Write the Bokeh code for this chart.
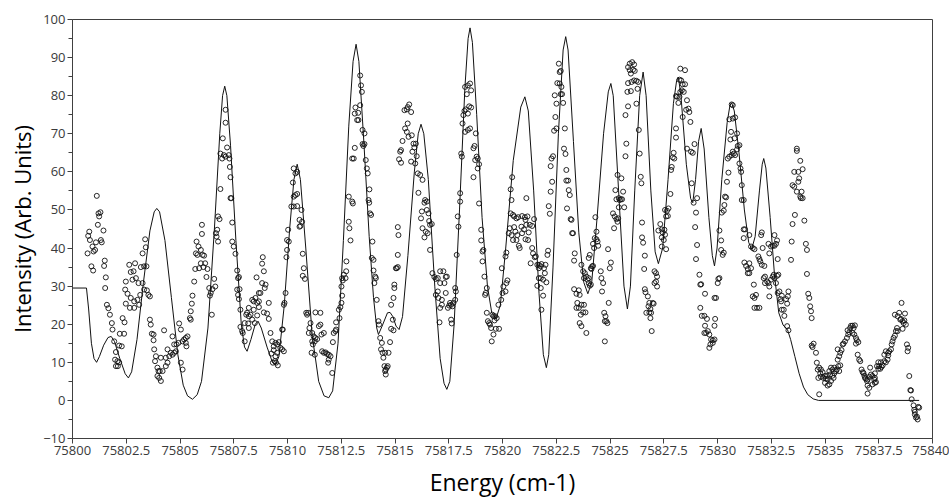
from bokeh.plotting import figure
from bokeh.models import FixedTicker, Range1d, ColumnDataSource
from bokeh.embed import file_html
from bokeh.resources import INLINE

# ---- tick definitions ----
x_ticks = [75800, 75802.5, 75805, 75807.5, 75810, 75812.5, 75815, 75817.5, 75820,
           75822.5, 75825, 75827.5, 75830, 75832.5, 75835, 75837.5, 75840]
x_tick_labels = ["75800", "75802.5", "75805", "75807.5", "75810", "75812.5", "75815",
                 "75817.5", "75820", "75822.5", "75825", "75827.5", "75830", "75832.5",
                 "75835", "75837.5", "75840"]
y_ticks = [-10, 0, 10, 20, 30, 40, 50, 60, 70, 80, 90, 100]
y_minor_ticks = [-5, 5, 15, 25, 35, 45, 55, 65, 75, 85, 95]

# ---- simulated spectrum (line) ----
sim_x = [75800.00, 75800.65, 75800.75, 75800.88, 75801.00, 75801.12, 75801.25, 75801.45,
         75801.65, 75801.80, 75801.95, 75802.20, 75802.45, 75802.60, 75802.75, 75803.00,
         75803.30, 75803.60, 75803.80, 75803.92, 75804.05, 75804.30, 75804.60, 75804.90,
         75805.15, 75805.35, 75805.58, 75805.80, 75806.00, 75806.30, 75806.60, 75806.85,
         75806.98, 75807.08, 75807.18, 75807.35, 75807.60, 75807.85, 75808.00, 75808.12,
         75808.30, 75808.50, 75808.63, 75808.78, 75809.05, 75809.30, 75809.44, 75809.60,
         75809.85, 75810.10, 75810.30, 75810.45, 75810.60, 75810.85, 75811.15, 75811.45,
         75811.70, 75811.92, 75812.10, 75812.35, 75812.60, 75812.85, 75813.05, 75813.19,
         75813.32, 75813.55, 75813.80, 75814.00, 75814.15, 75814.23, 75814.40, 75814.65,
         75814.77, 75814.90, 75815.05, 75815.19, 75815.35, 75815.60, 75815.90, 75816.08,
         75816.21, 75816.34, 75816.55, 75816.85, 75817.10, 75817.28, 75817.41, 75817.55,
         75817.75, 75818.00, 75818.25, 75818.40, 75818.49, 75818.60, 75818.80, 75819.05,
         75819.30, 75819.50, 75819.70, 75819.90, 75820.15, 75820.50, 75820.85, 75821.04,
         75821.20, 75821.45, 75821.70, 75821.90, 75822.04, 75822.15, 75822.35, 75822.60,
         75822.82, 75822.94, 75823.05, 75823.30, 75823.55, 75823.78, 75823.97, 75824.15,
         75824.40, 75824.70, 75824.92, 75825.04, 75825.15, 75825.40, 75825.65, 75825.81,
         75825.95, 75826.15, 75826.38, 75826.54, 75826.68, 75826.90, 75827.10, 75827.25,
         75827.45, 75827.70, 75827.95, 75828.10, 75828.18, 75828.30, 75828.55, 75828.75,
         75828.85, 75828.98, 75829.12, 75829.24, 75829.38, 75829.60, 75829.76, 75829.86,
         75829.98, 75830.20, 75830.45, 75830.58, 75830.66, 75830.78, 75831.00, 75831.25,
         75831.45, 75831.59, 75831.75, 75831.95, 75832.08, 75832.15, 75832.25, 75832.45,
         75832.65, 75832.85, 75833.05, 75833.26, 75833.40, 75833.60, 75833.80, 75834.00,
         75834.20, 75834.45, 75834.70, 75839.38]
sim_y = [29.5, 29.5, 24.0, 15.0, 11.0, 10.0, 11.5, 14.5,
         16.5, 16.8, 15.5, 11.0, 7.0, 5.9, 7.5, 16.0,
         31.0, 44.5, 49.5, 50.4, 49.5, 42.0, 27.0, 12.0,
         4.0, 1.2, 0.3, 1.5, 5.0, 19.0, 45.0, 70.0,
         80.0, 82.5, 80.0, 67.0, 42.0, 20.0, 14.0, 12.9,
         16.0, 20.0, 20.8, 19.0, 14.0, 10.0, 9.4, 11.5,
         25.0, 45.0, 58.0, 62.0, 58.0, 40.0, 17.0, 5.0,
         1.2, 0.7, 2.5, 15.0, 42.0, 72.0, 89.0, 93.5,
         89.0, 68.0, 43.0, 27.0, 19.0, 17.3, 19.5, 23.0,
         23.1, 22.0, 19.5, 18.6, 22.0, 38.0, 60.0, 70.0,
         72.5, 70.0, 58.0, 30.0, 11.0, 4.5, 2.9, 5.0,
         20.0, 50.0, 82.0, 95.0, 97.8, 94.0, 75.0, 48.0,
         30.0, 23.0, 21.5, 25.0, 40.0, 63.0, 77.0, 79.7,
         76.0, 55.0, 28.0, 12.0, 8.6, 12.0, 35.0, 70.0,
         92.0, 95.5, 92.0, 68.0, 44.0, 31.0, 28.0, 31.0,
         48.0, 70.0, 81.0, 83.2, 80.0, 55.0, 30.0, 24.0,
         30.0, 55.0, 80.0, 86.2, 80.0, 55.0, 39.0, 35.9,
         40.0, 58.0, 78.0, 84.0, 84.9, 80.0, 62.0, 53.0,
         51.9, 58.0, 68.0, 71.4, 66.0, 48.0, 38.0, 35.3,
         40.0, 58.0, 73.0, 77.5, 78.1, 76.0, 65.0, 50.0,
         41.5, 39.7, 43.0, 55.0, 62.0, 63.5, 61.0, 48.0,
         33.0, 23.0, 19.8, 18.5, 16.0, 11.5, 7.0, 3.5,
         1.5, 0.4, 0.0, 0.0]

# ---- experimental points, grouped by region (energy, intensity) ----
exp_region_a = [
    (75801.13, 53.7), (75801.21, 49.1), (75801.30, 49.4), (75801.24, 48.3), (75801.18, 46.1),
    (75801.44, 44.6), (75801.32, 42.1), (75801.36, 41.5), (75801.09, 41.5), (75801.05, 39.5),
    (75800.98, 39.1), (75800.78, 44.3), (75800.73, 43.2), (75800.81, 42.1), (75800.93, 40.4),
    (75800.70, 38.6), (75800.88, 35.2), (75800.96, 34.1), (75801.50, 36.7), (75801.47, 35.3),
    (75801.55, 32.3), (75801.52, 29.5), (75801.60, 25.1), (75801.67, 24.2), (75801.74, 22.5),
    (75801.83, 20.3), (75801.86, 18.6), (75801.94, 15.5), (75802.02, 12.7), (75802.17, 14.4),
    (75802.29, 14.2), (75802.20, 17.5), (75802.40, 17.5), (75801.98, 10.7), (75802.09, 10.3),
    (75802.17, 10.0), (75802.02, 9.0), (75802.11, 9.0),
    (75802.64, 35.6), (75802.91, 36.0), (75802.84, 33.9), (75802.71, 33.7), (75802.95, 32.1),
    (75802.79, 31.7), (75802.48, 31.2), (75803.07, 30.8), (75803.26, 30.8), (75802.45, 29.1),
    (75802.56, 28.0), (75802.48, 25.4), (75802.71, 26.9), (75802.87, 26.0), (75802.67, 24.3),
    (75802.87, 24.3), (75803.02, 26.4), (75803.10, 25.1), (75803.15, 27.7), (75803.33, 29.1),
    (75803.46, 28.9), (75803.53, 27.7), (75803.60, 27.3), (75803.18, 35.0), (75803.33, 35.2),
    (75803.44, 35.2), (75803.26, 38.6), (75803.41, 40.2), (75803.38, 42.3), (75802.33, 21.6),
    (75802.42, 20.5),
]
exp_region_b = [
    (75803.60, 21.2), (75803.64, 19.9), (75803.69, 17.5), (75803.77, 17.3), (75803.77, 15.8),
    (75803.80, 13.4), (75803.88, 11.6), (75803.84, 10.3), (75803.95, 8.6), (75804.00, 7.7),
    (75804.06, 7.7), (75804.19, 7.7), (75803.95, 6.4), (75804.03, 5.9), (75804.11, 5.1),
    (75804.26, 18.4), (75804.34, 9.0), (75804.42, 9.9), (75804.50, 11.6), (75804.42, 13.4),
    (75804.57, 12.5), (75804.65, 12.0), (75804.73, 12.5), (75804.81, 12.9), (75804.65, 16.8),
    (75804.73, 14.7), (75804.84, 14.7), (75804.93, 15.1), (75804.96, 20.2), (75805.04, 18.6),
    (75805.12, 15.5), (75805.19, 16.0), (75805.27, 16.4), (75805.35, 16.8), (75805.27, 15.1),
    (75805.30, 14.2), (75805.04, 9.9), (75805.12, 8.1), (75804.34, 11.2), (75804.11, 11.2),
    (75806.02, 46.1), (75806.02, 43.7), (75805.77, 41.7), (75805.86, 40.4), (75805.97, 39.5),
    (75805.74, 38.6), (75805.81, 38.2), (75806.05, 38.2), (75806.12, 38.0), (75805.97, 36.0),
    (75806.17, 36.0), (75805.89, 34.7), (75805.71, 34.5), (75806.09, 35.0), (75806.28, 34.5),
    (75806.23, 32.4), (75805.66, 31.2), (75805.58, 27.5), (75805.55, 25.4), (75805.50, 23.4),
    (75805.46, 21.6), (75805.50, 21.2), (75806.36, 29.5), (75806.43, 28.2), (75806.39, 27.5),
    (75806.51, 29.2), (75806.64, 29.9), (75806.59, 31.9), (75806.48, 22.5), (75806.67, 43.9),
    (75806.70, 43.0),
]
exp_region_c = [
    (75807.12, 76.3), (75807.12, 72.9), (75806.99, 68.8), (75807.19, 66.4), (75806.88, 64.8),
    (75806.96, 63.5), (75807.04, 64.4), (75807.12, 64.0), (75807.27, 64.4), (75807.30, 63.5),
    (75807.32, 61.3), (75807.35, 58.6), (75806.88, 55.5), (75807.35, 53.1), (75807.39, 53.1),
    (75806.77, 48.3), (75806.84, 47.6), (75806.73, 44.8), (75806.77, 41.7), (75807.43, 46.7),
    (75807.43, 41.7), (75807.50, 40.4), (75807.58, 38.5), (75807.66, 34.1), (75807.74, 32.4),
    (75807.70, 32.1), (75807.66, 29.1), (75807.77, 29.2), (75807.70, 27.7), (75807.74, 26.6),
    (75807.81, 23.8), (75807.81, 19.3), (75807.89, 18.2), (75807.92, 17.7), (75808.01, 15.5),
    (75808.85, 37.6), (75808.82, 35.9), (75808.90, 33.9), (75808.56, 32.3), (75808.98, 30.4),
    (75808.94, 29.5), (75808.74, 28.2), (75808.67, 28.2), (75808.51, 26.9), (75808.36, 26.4),
    (75808.43, 26.0), (75808.59, 25.6), (75808.67, 24.5), (75808.20, 24.3), (75808.12, 23.0),
    (75808.08, 22.5), (75808.20, 22.1), (75808.28, 22.5), (75808.36, 21.2), (75808.17, 20.2),
    (75808.01, 20.3), (75808.20, 19.0), (75808.48, 20.3), (75808.59, 22.3), (75808.90, 23.1),
    (75809.05, 22.8), (75809.13, 25.6), (75809.13, 21.4), (75809.21, 17.7), (75809.29, 15.5),
    (75809.36, 14.2), (75809.44, 15.1), (75809.52, 14.7), (75809.60, 15.3), (75809.67, 13.8),
    (75809.75, 13.4), (75809.52, 12.5), (75809.44, 11.6), (75809.41, 10.3), (75809.47, 9.9),
    (75809.55, 9.2), (75809.32, 9.9), (75809.25, 12.3), (75809.36, 13.2), (75809.78, 18.6),
    (75809.83, 12.9), (75808.82, 30.8), (75808.67, 26.0), (75808.43, 23.8),
]
exp_region_d = [
    (75810.29, 60.9), (75810.37, 59.6), (75810.45, 60.0), (75810.25, 57.2), (75810.37, 53.9),
    (75810.45, 54.2), (75810.29, 53.5), (75810.18, 50.9), (75810.29, 50.9), (75810.45, 51.0),
    (75810.65, 50.0), (75810.56, 47.4), (75810.68, 46.9), (75810.60, 45.8), (75810.56, 45.6),
    (75810.03, 44.8), (75809.98, 42.1), (75810.06, 41.7), (75809.98, 39.5), (75809.95, 37.6),
    (75810.71, 38.5), (75810.76, 34.7), (75810.71, 32.7), (75810.81, 31.9), (75809.91, 28.2),
    (75809.86, 25.6), (75809.83, 25.1), (75809.75, 18.6),
    (75810.87, 23.0), (75810.96, 23.0), (75810.91, 22.5), (75811.30, 23.1), (75811.53, 23.0),
    (75811.07, 20.3), (75811.02, 19.0), (75811.15, 17.7), (75810.99, 17.7), (75811.22, 16.8),
    (75811.30, 16.4), (75811.38, 16.1), (75811.27, 15.5), (75811.15, 15.5), (75811.18, 14.7),
    (75811.12, 12.5), (75811.27, 12.0), (75811.53, 19.9), (75811.46, 19.5), (75811.58, 17.3),
    (75811.69, 17.7), (75811.61, 12.9), (75811.69, 12.5), (75811.77, 12.6), (75811.84, 12.2),
    (75811.92, 12.0), (75812.00, 11.6), (75811.92, 10.7), (75811.89, 9.9), (75812.08, 7.2),
    (75812.11, 15.3), (75812.15, 17.7), (75812.23, 18.2), (75812.26, 18.6), (75812.26, 20.5),
    (75812.39, 23.8), (75812.46, 24.5), (75812.42, 21.6), (75812.51, 25.6), (75812.54, 27.5),
    (75812.51, 29.9), (75812.57, 31.5), (75812.62, 33.0), (75812.54, 32.1), (75812.70, 32.1),
    (75812.73, 33.9), (75812.74, 36.5),
    (75812.85, 46.9), (75812.88, 45.2), (75812.93, 42.0), (75812.85, 53.5), (75813.01, 52.2),
    (75813.04, 51.7), (75813.08, 63.5), (75813.01, 63.5), (75813.13, 66.3), (75813.24, 73.6),
    (75813.29, 75.5), (75813.16, 76.9), (75813.13, 75.3),
]
exp_region_e = [
    (75813.38, 85.3), (75813.42, 82.7), (75813.46, 81.0), (75813.38, 77.5), (75813.30, 73.6),
    (75813.49, 71.0), (75813.58, 70.1), (75813.49, 67.3), (75813.53, 66.8), (75813.58, 67.3),
    (75813.64, 63.1), (75813.69, 60.9), (75813.73, 59.6), (75813.81, 55.4), (75813.77, 52.6),
    (75813.80, 51.9), (75813.84, 49.1), (75813.89, 48.7), (75813.95, 41.7), (75813.92, 37.4),
    (75814.00, 36.9), (75814.00, 34.1), (75814.08, 32.5), (75814.04, 30.8), (75814.11, 32.1),
    (75814.15, 26.4),
    (75814.23, 20.8), (75814.26, 19.9), (75814.31, 16.4), (75814.39, 15.1), (75814.35, 13.4),
    (75814.42, 12.5), (75814.46, 11.2), (75814.54, 12.5), (75814.70, 12.5), (75814.77, 15.3),
    (75814.51, 9.0), (75814.57, 8.1), (75814.54, 7.7), (75814.62, 8.6), (75814.66, 9.0),
    (75814.57, 6.8), (75814.82, 18.8), (75814.93, 18.4), (75814.90, 21.2), (75814.82, 25.1),
    (75814.93, 26.9), (75814.97, 29.5), (75814.97, 30.4), (75815.08, 34.7), (75815.13, 35.0),
    (75815.04, 34.7), (75815.13, 38.2), (75815.16, 43.4), (75815.13, 45.5),
    (75815.44, 76.2), (75815.55, 76.4), (75815.66, 77.7), (75815.75, 75.7), (75815.59, 77.0),
    (75815.47, 71.4), (75815.55, 70.5), (75815.63, 69.2), (75815.59, 72.7), (75815.78, 69.6),
    (75815.86, 67.4), (75815.35, 68.1), (75815.28, 65.7), (75815.24, 65.3), (75815.19, 63.3),
    (75815.28, 62.4), (75815.75, 62.7), (75815.81, 65.3), (75815.90, 66.4), (75815.97, 67.4),
    (75816.01, 64.1), (75815.94, 62.2), (75816.06, 59.6), (75816.17, 59.2), (75816.28, 57.9),
    (75816.09, 54.5), (75816.40, 52.6), (75816.48, 52.2), (75816.37, 51.9), (75816.48, 50.0),
    (75816.25, 49.6), (75816.21, 47.8), (75816.56, 49.1), (75816.59, 47.1), (75816.71, 46.3),
    (75816.63, 46.1), (75816.28, 45.2), (75816.43, 44.3), (75816.37, 42.8), (75816.63, 39.5),
    (75816.52, 43.9),
]
exp_region_f = [
    (75816.74, 33.4), (75816.83, 32.4), (75816.90, 31.9), (75816.99, 32.1), (75817.10, 33.9),
    (75817.25, 33.9), (75817.36, 32.4), (75817.41, 32.5), (75817.30, 30.8), (75817.10, 30.8),
    (75816.99, 28.6), (75816.90, 27.7), (75817.02, 26.9), (75817.18, 26.4), (75817.36, 28.2),
    (75817.46, 24.3), (75817.52, 24.9), (75817.61, 25.1), (75817.67, 24.7), (75817.72, 25.6),
    (75817.80, 26.4), (75817.83, 28.6), (75817.80, 29.5), (75817.87, 38.2), (75817.56, 25.6),
    (75817.10, 24.3), (75817.18, 25.1), (75817.07, 20.5), (75817.61, 21.2), (75817.64, 20.2),
    (75817.92, 48.3), (75817.95, 45.6), (75818.03, 52.2), (75818.03, 54.4), (75818.08, 64.8),
    (75818.11, 64.0), (75818.14, 72.7), (75818.18, 74.9), (75818.23, 76.0), (75818.29, 76.4),
    (75818.39, 75.3), (75818.45, 77.2), (75818.54, 76.9), (75818.26, 82.3), (75818.39, 82.7),
    (75818.49, 83.2), (75818.54, 81.4), (75818.34, 80.4), (75818.26, 70.5), (75818.39, 71.0),
    (75818.49, 71.4), (75818.76, 70.1), (75818.70, 66.8), (75818.65, 66.2), (75818.80, 64.0),
    (75818.73, 63.1), (75818.85, 63.5), (75818.91, 62.0), (75818.65, 58.6), (75818.85, 60.9),
    (75818.91, 51.7), (75819.01, 44.8), (75819.01, 42.0), (75819.07, 39.1), (75819.11, 39.5),
    (75819.07, 36.5), (75819.16, 32.5), (75819.27, 29.5), (75819.19, 27.7), (75819.22, 28.2),
    (75819.27, 23.0), (75819.32, 20.8), (75819.38, 20.3), (75819.42, 19.9), (75819.53, 22.5),
    (75819.58, 22.1), (75819.66, 22.1), (75819.63, 21.0), (75819.73, 21.6), (75819.69, 18.8),
    (75819.84, 18.8), (75819.47, 19.0), (75819.58, 17.3), (75819.50, 15.5), (75819.81, 25.1),
    (75819.94, 26.4), (75820.00, 28.2), (75820.04, 29.9), (75819.97, 34.7),
]
exp_region_g = [
    (75820.14, 28.6), (75820.14, 37.8), (75820.18, 30.8), (75820.18, 38.8), (75820.23, 31.5),
    (75820.38, 49.1), (75820.54, 48.3), (75820.65, 47.8), (75820.49, 48.7), (75820.73, 48.1),
    (75820.91, 48.4), (75821.04, 48.1), (75821.16, 48.3), (75821.07, 47.4), (75820.38, 55.4),
    (75820.42, 52.6), (75820.45, 58.6), (75821.11, 53.1), (75820.34, 45.2), (75820.29, 43.9),
    (75820.42, 43.4), (75820.54, 45.5), (75820.60, 44.3), (75820.69, 43.4), (75820.49, 42.1),
    (75820.65, 42.1), (75820.76, 40.6), (75820.80, 40.0), (75820.88, 45.6), (75820.91, 43.9),
    (75821.00, 44.9), (75821.11, 46.1), (75821.07, 42.3), (75821.19, 42.1), (75821.22, 44.1),
    (75821.27, 46.1), (75821.38, 45.8), (75821.47, 47.6), (75821.38, 40.0), (75821.42, 38.6),
    (75821.50, 37.6), (75821.31, 36.0), (75821.55, 37.8), (75821.62, 35.6), (75821.69, 35.6),
    (75821.78, 35.2), (75821.81, 35.8), (75822.00, 35.6), (75821.93, 34.7), (75821.69, 32.1),
    (75821.78, 32.1), (75821.89, 31.7), (75822.04, 31.0), (75821.62, 30.1), (75821.78, 29.5),
    (75821.89, 27.5), (75821.81, 23.8), (75822.12, 39.3), (75822.09, 38.2), (75821.97, 33.4),
    (75821.69, 34.7),
    (75822.62, 88.4), (75822.71, 86.5), (75822.66, 86.2), (75822.55, 83.3), (75822.66, 83.2),
    (75822.74, 82.3), (75822.71, 80.4), (75822.82, 78.1), (75822.77, 80.4), (75822.43, 80.1),
    (75822.51, 77.9), (75822.46, 74.4), (75822.40, 70.8), (75822.51, 71.4), (75822.90, 71.4),
    (75822.28, 63.5), (75822.35, 64.1), (75822.24, 61.5), (75822.31, 57.4), (75822.86, 66.1),
    (75822.93, 64.7), (75822.24, 54.8), (75822.15, 51.0), (75822.20, 49.0), (75822.97, 60.5),
    (75822.97, 57.7), (75823.05, 57.7), (75823.08, 55.2), (75823.13, 53.9), (75823.00, 50.4),
    (75823.17, 47.6), (75823.21, 47.4), (75823.24, 43.9), (75823.28, 43.9), (75823.36, 38.6),
    (75823.33, 36.7),
]
exp_region_h = [
    (75823.67, 35.6), (75823.75, 33.9), (75823.83, 33.4), (75823.90, 32.5), (75823.79, 32.1),
    (75823.95, 31.7), (75824.01, 30.8), (75824.06, 30.1), (75824.11, 30.4), (75824.01, 32.1),
    (75824.11, 34.7), (75824.14, 34.5), (75824.17, 35.2), (75824.21, 35.3), (75824.01, 37.4),
    (75824.06, 38.2), (75824.21, 41.1), (75824.26, 40.0), (75824.29, 42.6), (75824.37, 42.3),
    (75824.42, 41.7), (75824.45, 40.6), (75824.37, 44.3), (75824.32, 48.1), (75824.57, 33.9),
    (75824.60, 32.1), (75824.68, 30.8), (75824.63, 28.6), (75824.91, 39.7), (75825.04, 36.2),
    (75824.99, 34.7), (75824.94, 25.6), (75823.33, 29.2), (75823.44, 28.0), (75823.55, 28.9),
    (75823.59, 27.7), (75823.48, 25.6), (75823.44, 24.3), (75823.55, 24.3), (75823.67, 25.1),
    (75823.79, 25.1), (75823.75, 23.1), (75823.86, 23.1), (75823.64, 22.5), (75823.59, 20.3),
    (75823.67, 19.5), (75823.90, 17.7), (75824.73, 23.0), (75824.79, 22.1), (75824.76, 20.8),
    (75824.88, 20.3), (75824.83, 20.8), (75824.76, 15.5),
    (75825.35, 59.2), (75825.53, 58.3), (75825.25, 55.2), (75825.61, 54.8), (75825.30, 52.8),
    (75825.41, 53.1), (75825.45, 52.6), (75825.50, 52.8), (75825.56, 52.8), (75825.66, 50.7),
    (75825.41, 50.7), (75825.14, 49.1), (75825.22, 48.3), (75825.30, 47.6), (75825.38, 47.8),
    (75825.35, 46.9), (75825.19, 45.2),
    (75825.92, 88.4), (75826.03, 88.8), (75826.12, 88.2), (75825.84, 87.5), (75825.92, 86.7),
    (75826.07, 86.8), (75826.15, 86.5), (75825.97, 85.8), (75826.00, 83.6), (75825.84, 83.3),
    (75826.12, 84.0), (75826.23, 83.9), (75826.31, 83.6), (75825.81, 81.0), (75825.97, 81.2),
    (75826.28, 81.8), (75825.84, 77.2), (75826.23, 77.9), (75825.72, 74.9), (75825.76, 67.4),
    (75825.72, 64.1), (75826.34, 71.0), (75826.38, 64.8), (75826.43, 58.7), (75826.46, 57.0),
    (75826.49, 46.7), (75826.49, 42.8), (75826.54, 41.4), (75826.62, 38.0), (75826.59, 34.5),
    (75826.62, 29.2), (75826.65, 28.4), (75826.69, 23.0),
]
exp_region_i = [
    (75826.76, 27.3), (75826.83, 25.6), (75826.79, 24.7), (75826.88, 24.0), (75826.99, 25.6),
    (75827.03, 25.4), (75826.91, 23.0), (75826.83, 23.1), (75826.88, 21.6), (75826.94, 18.2),
    (75827.07, 33.9), (75827.14, 33.4), (75827.19, 32.5), (75827.14, 31.2), (75827.19, 29.9),
    (75827.07, 30.8),
    (75827.25, 44.6), (75827.34, 46.3), (75827.41, 44.9), (75827.45, 44.1), (75827.53, 44.8),
    (75827.56, 43.5), (75827.41, 42.8), (75827.50, 42.1), (75827.41, 40.4), (75827.61, 39.7),
    (75827.56, 50.0), (75827.65, 49.8), (75827.72, 50.4), (75827.69, 48.4), (75827.61, 48.3),
    (75827.81, 54.2), (75827.84, 60.5), (75827.87, 61.3), (75827.92, 63.8), (75827.99, 63.5),
    (75827.96, 65.0), (75828.07, 69.0), (75828.07, 71.4), (75828.12, 79.7), (75828.07, 79.9),
    (75828.18, 78.1), (75828.23, 79.7), (75828.27, 81.0), (75828.31, 84.0), (75828.23, 84.2),
    (75828.27, 87.1), (75828.49, 86.7), (75828.38, 83.0), (75828.49, 83.0), (75828.34, 81.4),
    (75828.43, 81.0), (75828.58, 78.8), (75828.54, 76.3), (75828.65, 76.6), (75828.69, 75.7),
    (75828.74, 73.1), (75828.38, 74.4), (75828.58, 66.1),
    (75828.77, 65.3), (75828.85, 65.0), (75828.93, 67.3), (75828.80, 57.0), (75828.89, 51.9),
    (75829.00, 49.3), (75828.96, 45.5), (75829.05, 53.1), (75829.05, 40.8), (75829.00, 37.1),
    (75829.16, 33.0), (75829.20, 30.4), (75829.24, 30.5), (75829.42, 28.0), (75829.20, 24.3),
    (75829.27, 22.2), (75829.39, 22.2), (75829.51, 21.4), (75829.42, 19.6), (75829.39, 17.7),
    (75829.47, 17.7), (75829.55, 18.2), (75829.62, 17.3), (75829.70, 16.0), (75829.78, 15.8),
    (75829.86, 16.0), (75829.67, 14.7), (75829.78, 15.1), (75829.62, 13.8), (75829.86, 19.6),
    (75829.89, 21.4), (75829.86, 26.9), (75829.93, 26.9), (75830.01, 30.8), (75830.09, 32.1),
    (75830.04, 31.9), (75830.09, 44.6), (75830.17, 42.0), (75830.17, 39.5), (75830.24, 38.2),
    (75830.29, 38.8),
]
exp_region_j = [
    (75830.20, 49.3), (75830.29, 49.8), (75830.32, 51.3), (75830.40, 53.3), (75830.35, 53.5),
    (75830.44, 57.4), (75830.51, 59.8), (75830.48, 63.5), (75830.55, 64.0), (75830.66, 64.4),
    (75830.76, 64.8), (75830.71, 65.3), (75830.82, 64.4), (75830.91, 65.9), (75830.94, 66.8),
    (75831.02, 67.0), (75830.91, 70.1), (75830.79, 68.8), (75830.60, 68.5), (75830.63, 70.5),
    (75830.55, 73.8), (75830.71, 74.0), (75830.82, 74.3), (75830.66, 77.7), (75830.71, 77.5),
    (75831.02, 62.2), (75831.07, 60.9), (75831.10, 60.0), (75831.13, 56.5), (75831.13, 52.6),
    (75831.22, 52.6), (75831.22, 44.9), (75831.28, 44.9), (75831.22, 42.6), (75831.48, 43.4),
    (75831.25, 36.2), (75831.33, 35.3), (75831.41, 34.5), (75831.48, 36.0), (75831.56, 34.7),
    (75831.41, 33.4), (75831.48, 33.4), (75831.56, 40.4), (75831.64, 40.0), (75831.72, 39.7),
    (75831.69, 30.4), (75831.64, 27.3), (75831.72, 26.9), (75831.79, 27.7), (75831.72, 24.3),
    (75831.84, 24.3), (75831.95, 24.3), (75831.90, 37.8), (75831.95, 37.1), (75831.99, 36.5),
    (75832.06, 35.6), (75832.18, 35.3), (75832.21, 32.5), (75832.15, 32.1), (75832.31, 31.2),
    (75832.21, 30.8), (75832.37, 30.8), (75832.49, 31.7), (75832.41, 29.9), (75832.41, 27.3),
    (75832.57, 32.5), (75832.65, 32.1), (75832.62, 33.0), (75832.77, 32.7), (75832.83, 33.0),
    (75832.72, 30.8), (75832.80, 28.2), (75832.10, 40.0), (75832.03, 43.4), (75832.06, 44.1),
    (75832.37, 41.1), (75832.41, 38.6), (75832.49, 40.4), (75832.57, 40.6), (75832.65, 40.6),
    (75832.72, 41.1), (75832.77, 42.0), (75832.65, 43.4), (75832.80, 37.1), (75832.88, 28.6),
    (75832.93, 26.6), (75832.96, 26.0), (75832.99, 23.8), (75833.08, 23.8), (75833.11, 22.2),
    (75832.99, 27.5), (75833.19, 26.6), (75833.27, 27.3), (75833.24, 25.4), (75833.30, 28.6),
    (75833.24, 19.5), (75833.30, 18.4),
]
exp_region_k = [
    (75833.69, 66.1), (75833.69, 65.5), (75833.85, 62.9), (75833.96, 60.7), (75833.76, 60.0),
    (75833.57, 60.0), (75833.80, 58.3), (75833.76, 57.4), (75833.49, 56.5), (75833.57, 56.1),
    (75833.69, 54.8), (75833.91, 54.8), (75833.88, 53.1), (75833.96, 53.1), (75833.85, 53.5),
    (75833.60, 48.7), (75833.49, 46.3), (75834.04, 47.2), (75833.45, 41.7), (75834.11, 41.1),
    (75834.16, 39.5), (75833.42, 36.9), (75834.16, 33.2), (75834.22, 28.0), (75834.27, 26.9),
    (75834.31, 24.7), (75834.35, 23.4), (75834.38, 21.6),
    (75834.38, 14.4), (75834.47, 14.9), (75834.42, 14.0), (75834.58, 12.5), (75834.62, 9.9),
    (75834.73, 8.6), (75834.66, 8.1), (75834.81, 8.1), (75834.89, 7.4), (75834.78, 7.1),
    (75834.69, 5.9), (75834.81, 6.2), (75834.93, 5.9), (75835.04, 5.7), (75835.09, 6.4),
    (75835.00, 6.4), (75835.12, 5.5), (75835.00, 4.6), (75835.12, 3.9), (75834.73, 1.6),
    (75835.20, 7.7), (75835.28, 8.6), (75835.35, 8.1), (75835.43, 8.6), (75835.51, 7.7),
    (75835.55, 8.1), (75835.66, 7.7), (75835.62, 9.0), (75835.71, 9.2), (75835.35, 6.5),
    (75835.24, 6.8), (75835.40, 5.9), (75835.28, 5.1), (75835.20, 4.2), (75835.43, 7.1),
    (75835.59, 10.7), (75835.66, 11.6), (75835.71, 12.5), (75835.77, 13.2), (75835.82, 14.7),
    (75835.86, 14.9), (75835.59, 13.4), (75835.93, 15.5), (75836.02, 16.4), (75836.08, 17.3),
    (75836.13, 17.9), (75836.05, 18.4), (75836.17, 19.0), (75836.21, 19.6), (75836.28, 19.6),
    (75836.33, 19.0), (75836.39, 19.7), (75836.28, 17.7), (75836.36, 17.3), (75836.44, 16.4),
    (75836.48, 15.8), (75836.55, 15.3), (75836.44, 14.9), (75836.52, 12.0), (75836.59, 10.7),
]
exp_region_l = [
    (75836.64, 10.3), (75836.70, 8.1), (75836.75, 7.4), (75836.79, 7.2), (75836.83, 6.5),
    (75836.86, 5.9), (75836.90, 5.7), (75836.95, 5.1), (75836.98, 5.5), (75837.06, 6.2),
    (75837.14, 6.8), (75837.21, 6.4), (75837.10, 8.6), (75837.29, 5.5), (75837.32, 5.9),
    (75836.98, 3.9), (75837.06, 3.3), (75836.98, 1.8), (75837.21, 4.2), (75837.32, 4.6),
    (75837.37, 4.8), (75837.32, 7.1), (75837.42, 9.0), (75837.48, 10.0), (75837.48, 8.3),
    (75837.52, 9.0), (75837.57, 8.3), (75837.63, 8.8), (75837.68, 9.2), (75837.60, 10.0),
    (75837.76, 10.3), (75837.83, 10.0), (75837.91, 10.7), (75837.94, 11.8), (75837.76, 12.0),
    (75837.83, 12.9), (75837.94, 12.5), (75837.99, 12.9), (75838.07, 13.4), (75838.10, 14.7),
    (75838.14, 15.5), (75838.19, 16.4), (75838.25, 17.0), (75838.30, 18.2), (75838.38, 18.2),
    (75838.35, 19.0), (75838.25, 22.5), (75838.38, 22.1), (75838.45, 23.0), (75838.50, 21.2),
    (75838.53, 21.4), (75838.61, 20.8), (75838.66, 20.3), (75838.69, 21.0), (75838.72, 22.8),
    (75838.61, 18.8), (75838.76, 19.9), (75838.56, 25.6), (75838.81, 14.7), (75838.87, 13.8),
    (75838.84, 12.9), (75838.92, 6.4), (75839.00, 2.6), (75838.97, 2.7), (75839.03, 0.3),
    (75839.12, -1.3), (75839.15, -2.5), (75839.18, -3.7), (75839.23, -4.5), (75839.31, -5.0),
    (75839.28, -4.3), (75839.34, -1.7), (75839.38, -1.9), (75839.18, -3.0),
]

exp_all = (exp_region_a + exp_region_b + exp_region_c + exp_region_d + exp_region_e +
           exp_region_f + exp_region_g + exp_region_h + exp_region_i + exp_region_j +
           exp_region_k + exp_region_l)
exp_src = ColumnDataSource(data=dict(x=[pt[0] for pt in exp_all], y=[pt[1] for pt in exp_all]))
sim_src = ColumnDataSource(data=dict(x=sim_x, y=sim_y))

FONT = "Open Sans"
AXIS_COLOR = "#404040"
LABEL_COLOR = "#3a3a3a"

p = figure(width=949, height=500,
           x_range=Range1d(75800, 75840), y_range=Range1d(-10, 100),
           output_backend="svg", toolbar_location=None,
           min_border_left=72, min_border_right=17, min_border_top=19, min_border_bottom=60)

p.background_fill_color = "white"
p.border_fill_color = "white"
p.outline_line_color = AXIS_COLOR
p.outline_line_width = 1
p.grid.visible = False

p.line("x", "y", source=sim_src, line_color="#111111", line_width=1)
p.scatter("x", "y", source=exp_src, marker="circle", size=5,
          fill_color=None, line_color="#111111", line_width=0.9)

xa = p.xaxis[0]
xa.ticker = FixedTicker(ticks=x_ticks, minor_ticks=[])
xa.major_label_overrides = {t: s for t, s in zip(x_ticks, x_tick_labels)}
xa.axis_label = "Energy (cm-1)"
ya = p.yaxis[0]
ya.ticker = FixedTicker(ticks=y_ticks, minor_ticks=y_minor_ticks)
ya.axis_label = "Intensity (Arb. Units)"

for ax in (xa, ya):
    ax.axis_line_color = AXIS_COLOR
    ax.major_tick_line_color = AXIS_COLOR
    ax.minor_tick_line_color = AXIS_COLOR
    ax.major_tick_out = 5
    ax.major_tick_in = 0
    ax.minor_tick_out = 4
    ax.minor_tick_in = 0
    ax.major_label_text_font = FONT
    ax.major_label_text_font_size = "13px"
    ax.major_label_text_color = LABEL_COLOR
    ax.major_label_standoff = 2
    ax.axis_label_text_font = FONT
    ax.axis_label_text_font_style = "normal"
    ax.axis_label_text_color = "#000000"

xa.axis_label_text_font_size = "23px"
xa.axis_label_standoff = 8
ya.axis_label_text_font_size = "22px"
ya.axis_label_standoff = 3

open("out.html", "w").write(file_html(p, INLINE))
